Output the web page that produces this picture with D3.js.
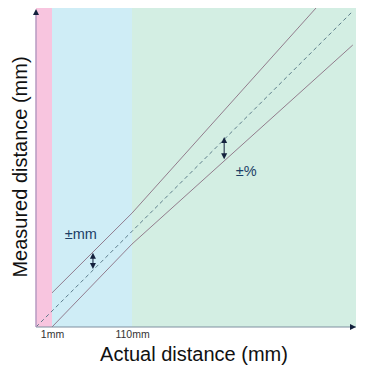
<!DOCTYPE html>
<html><head><meta charset="utf-8">
<script src="https://cdn.jsdelivr.net/npm/d3@7"></script>
<style>body{margin:0;background:#fff}svg{display:block}text{font-family:"Liberation Sans",Arial,sans-serif}</style>
</head><body>
<svg id="c" width="370" height="367"></svg>
<script>
// Schematic units (0..100 on each axis)
const zones = [
  {name:"below", x0:0, x1:5, color:"#f8c5df"},
  {name:"mm", x0:5, x1:30, color:"#cfedf6"},
  {name:"pct", x0:30, x1:100, color:"#d3eee3"}
];
const tickValues = [5, 30];
const tickLabels = ["1mm", "110mm"];
const idealLine = [[0,0],[99,99]];
const upperLine = [[5,10.7],[30,35.7],[87.5,100]];
const lowerLine = [[5,0],[30,26],[99,88.4]];
const annotations = [
  {label:"±mm", x:17.8, y0:18.2, y1:23.3, lx:9, ly:28.7},
  {label:"±%",  x:58.8, y0:52.6, y1:59.6, lx:62.4, ly:48.4}
];

const svg = d3.select("#c");
const x = d3.scaleLinear().domain([0,100]).range([36,356]);
const y = d3.scaleLinear().domain([0,100]).range([327,8]);

svg.append("g").selectAll("rect").data(zones).join("rect")
  .attr("x", d=>x(d.x0)).attr("width", d=>x(d.x1)-x(d.x0))
  .attr("y", y(100)).attr("height", y(0)-y(100))
  .attr("fill", d=>d.color);

const line = d3.line().x(d=>x(d[0])).y(d=>y(d[1]));
svg.append("path").attr("d", line(idealLine)).attr("fill","none")
  .attr("stroke","#4f7080").attr("stroke-width",0.9).attr("stroke-dasharray","4,3");
[upperLine, lowerLine].forEach(l=>{
  svg.append("path").attr("d", line(l)).attr("fill","none")
    .attr("stroke","#8a6f82").attr("stroke-width",0.9);
});

// axes
const xAxis = d3.axisBottom(x).tickValues(tickValues).tickFormat((d,i)=>tickLabels[i]).tickSize(0).tickPadding(4);
const gx = svg.append("g").attr("transform",`translate(0,${y(0)})`).call(xAxis);
gx.select(".domain").remove();
gx.selectAll("text").attr("font-size",10.5).attr("fill","#333");

svg.append("line").attr("x1",x(0)).attr("x2",x(100)).attr("y1",y(0)).attr("y2",y(0))
  .attr("stroke","#7f8fa0").attr("stroke-width",1.2);
svg.append("line").attr("x1",x(0)).attr("x2",x(0)).attr("y1",y(0)).attr("y2",y(100)+4)
  .attr("stroke","#b79ac2").attr("stroke-width",1.5);
const navy = "#14213d";
svg.append("path").attr("d",`M${x(0)-3},${y(100)+7}L${x(0)},${y(100)+1}L${x(0)+3},${y(100)+7}Z`).attr("fill",navy);
svg.append("path").attr("d",`M${x(100)-6},${y(0)-3}L${x(100)},${y(0)}L${x(100)-6},${y(0)+3}Z`).attr("fill",navy);

// annotations
annotations.forEach(a=>{
  const px = x(a.x), top = y(a.y1), bot = y(a.y0);
  svg.append("line").attr("x1",px).attr("x2",px).attr("y1",top+3).attr("y2",bot-3)
    .attr("stroke",navy).attr("stroke-width",1);
  svg.append("path").attr("d",`M${px-3},${top+6}L${px},${top}L${px+3},${top+6}Z`).attr("fill",navy);
  svg.append("path").attr("d",`M${px-3},${bot-6}L${px},${bot}L${px+3},${bot-6}Z`).attr("fill",navy);
  svg.append("text").attr("x",x(a.lx)).attr("y",y(a.ly)).attr("font-size",14.5)
    .attr("fill","#1c3e66").attr("dominant-baseline","middle").text(a.label);
});

svg.append("text").attr("x",194).attr("y",361).attr("text-anchor","middle")
  .attr("font-size",20).attr("fill","#111").text("Actual distance (mm)");
svg.append("text").attr("transform","translate(27,167) rotate(-90)").attr("text-anchor","middle")
  .attr("font-size",20).attr("fill","#111").text("Measured distance (mm)");
</script>
</body></html>
